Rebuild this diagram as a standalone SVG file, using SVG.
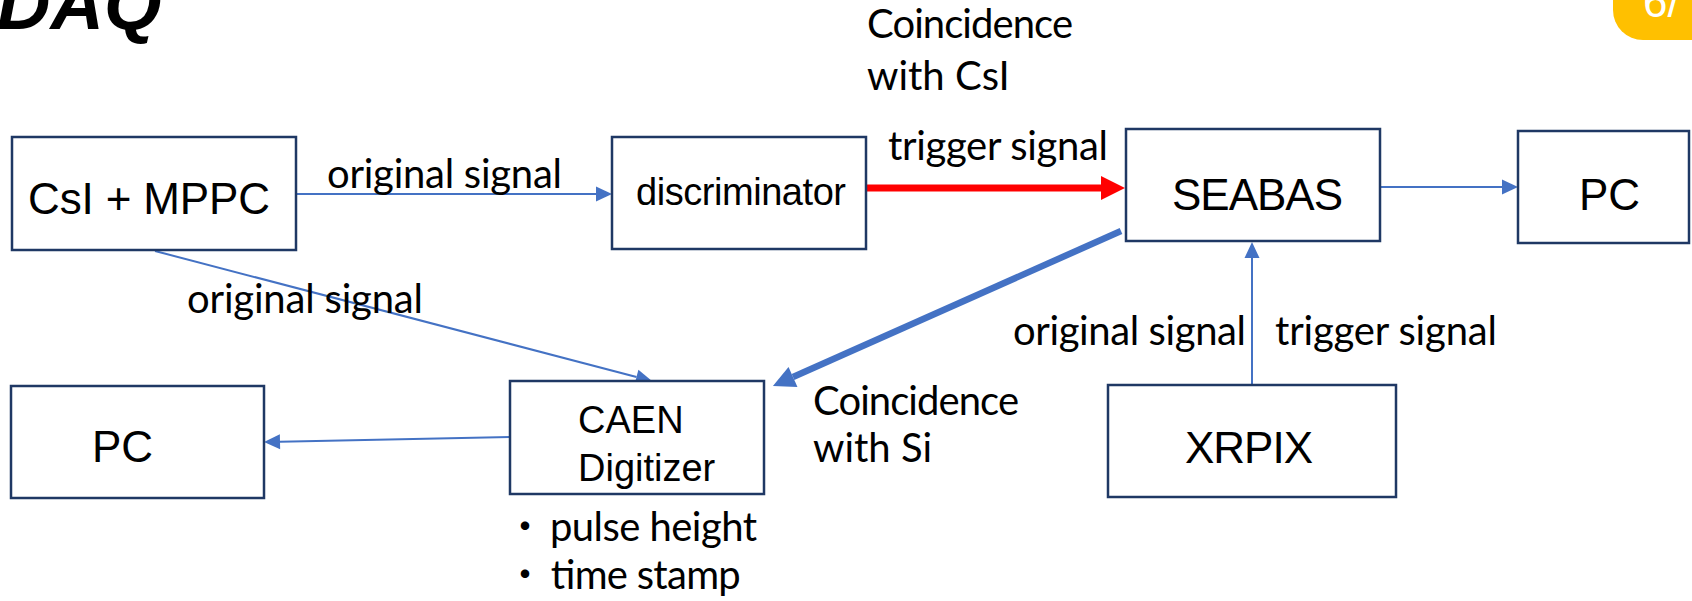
<svg xmlns="http://www.w3.org/2000/svg" width="1692" height="601" viewBox="0 0 1692 601">
  <style>
    .box { fill: #ffffff; stroke: #1f3864; stroke-width: 2.5; }
    .big { font-family: "Liberation Sans", Arial, sans-serif; font-size: 44px; fill: #000; }
    .mid { font-family: "Liberation Sans", Arial, sans-serif; font-size: 38px; fill: #000; }
    .lbl { font-family: Lato, "Noto Sans CJK JP", sans-serif; font-size: 40px; fill: #000; }
    .dot { font-family: "Noto Sans CJK JP", sans-serif; }
    .thin { stroke: #4472c4; stroke-width: 2; fill: none; marker-end: url(#headThin); }
    .thick { stroke: #4472c4; stroke-width: 6.5; fill: none; marker-end: url(#headThick); }
    .red { stroke: #ff0000; stroke-width: 7; fill: none; marker-end: url(#headRed); }
  </style>
  <defs>
    <marker id="headThin" markerUnits="userSpaceOnUse" markerWidth="16" markerHeight="15" refX="0" refY="7.5" orient="auto" overflow="visible">
      <path d="M0,0 L16,7.5 L0,15 Z" fill="#4472c4"/>
    </marker>
    <marker id="headThick" markerUnits="userSpaceOnUse" markerWidth="22" markerHeight="22" refX="0" refY="11" orient="auto" overflow="visible">
      <path d="M0,0 L22,11 L0,22 Z" fill="#4472c4"/>
    </marker>
    <marker id="headRed" markerUnits="userSpaceOnUse" markerWidth="24" markerHeight="24" refX="0" refY="12" orient="auto" overflow="visible">
      <path d="M0,0 L24,12 L0,24 Z" fill="#ff0000"/>
    </marker>
  </defs>

  <rect width="1692" height="601" fill="#ffffff"/>

  <!-- slide title and page badge -->
  <text x="-3" y="29" font-family="Liberation Sans, Arial, sans-serif" font-size="74" font-weight="bold" font-style="italic" fill="#000">DAQ</text>
  <g id="badge">
    <rect x="1613" y="-40" width="120" height="80" rx="30" ry="30" fill="#ffc000"/>
    <text x="1643" y="17" font-family="Liberation Sans, Arial, sans-serif" font-size="44" fill="#ffffff">6/</text>
  </g>

  <!-- connectors -->
  <g id="connectors">
    <line class="thin" x1="296" y1="194" x2="596" y2="194"/>
    <line class="red" x1="866" y1="188" x2="1101" y2="188"/>
    <line class="thin" x1="1381" y1="187" x2="1502" y2="187"/>
    <line class="thin" x1="155" y1="251" x2="636.5" y2="377"/>
    <line class="thick" x1="1121" y1="231" x2="793" y2="377"/>
    <line class="thin" x1="1252" y1="385" x2="1252" y2="258"/>
    <line class="thin" x1="510" y1="437" x2="280" y2="441.7"/>
  </g>

  <!-- nodes -->
  <g id="csi-mppc">
    <rect class="box" x="12" y="137" width="284" height="113"/>
    <text class="big" x="28" y="214" textLength="242">CsI + MPPC</text>
  </g>
  <g id="discriminator">
    <rect class="box" x="612" y="137" width="254" height="112"/>
    <text class="mid" x="636" y="205" textLength="210">discriminator</text>
  </g>
  <g id="seabas">
    <rect class="box" x="1126" y="129" width="254" height="112"/>
    <text class="big" x="1172" y="210" textLength="171">SEABAS</text>
  </g>
  <g id="pc-right">
    <rect class="box" x="1518" y="131" width="171" height="112"/>
    <text class="big" x="1579" y="210">PC</text>
  </g>
  <g id="caen">
    <rect class="box" x="510" y="381" width="254" height="113"/>
    <text class="mid" x="578" y="433">CAEN</text>
    <text class="mid" x="578" y="481">Digitizer</text>
  </g>
  <g id="pc-left">
    <rect class="box" x="11" y="386" width="253" height="112"/>
    <text class="big" x="92" y="462">PC</text>
  </g>
  <g id="xrpix">
    <rect class="box" x="1108" y="385" width="288" height="112"/>
    <text class="big" x="1185" y="463" textLength="128">XRPIX</text>
  </g>

  <!-- connector labels -->
  <g id="labels">
    <text class="lbl" x="867" y="38" textLength="206">Coincidence</text>
    <text class="lbl" x="867" y="90">with CsI</text>
    <text class="lbl" x="327" y="188" textLength="235">original signal</text>
    <text class="lbl" x="888" y="160" textLength="220">trigger signal</text>
    <text class="lbl" x="187" y="313" textLength="236">original signal</text>
    <text class="lbl" x="1013" y="345" textLength="233">original signal</text>
    <text class="lbl" x="1275" y="345" textLength="222">trigger signal</text>
    <text class="lbl" x="813" y="415" textLength="206">Coincidence</text>
    <text class="lbl" x="813" y="462">with Si</text>
  </g>

  <!-- digitizer outputs -->
  <g id="outputs">
    <text class="lbl" x="505" y="541"><tspan class="dot">・</tspan><tspan x="550" textLength="207">pulse height</tspan></text>
    <text class="lbl" x="505" y="589"><tspan class="dot">・</tspan><tspan x="550" textLength="190">time stamp</tspan></text>
  </g>
</svg>
